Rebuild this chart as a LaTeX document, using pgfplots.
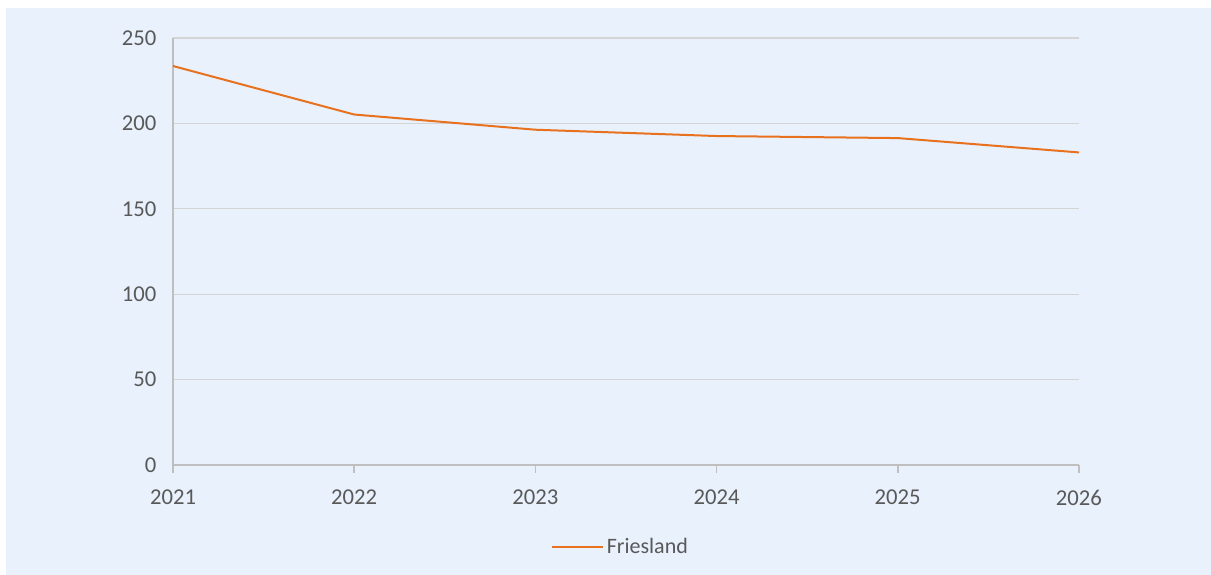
\documentclass[border=0pt]{standalone}
\usepackage{fontspec}
\setmainfont{Carlito}
\usepackage{pgfplots}
\pgfplotsset{compat=1.18}
\definecolor{bgblue}{HTML}{E9F1FD}
\definecolor{gridgray}{HTML}{D4D4D4}
\definecolor{axisgray}{HTML}{BFBFBF}
\definecolor{txtgray}{HTML}{595959}
\definecolor{lineorange}{HTML}{E8711E}
\begin{document}
\begin{tikzpicture}[x=1pt,y=1pt]
\path[use as bounding box] (0,0) rectangle (908.25,431.25);
\fill[bgblue] (4.5,0) rectangle (908.25,425.25);
\begin{axis}[
  scale only axis,
  width=679.5pt, height=320.25pt,
  at={(129.75pt,82.5pt)}, anchor=south west,
  xmin=2021, xmax=2026, ymin=0, ymax=250,
  xtick={2021,...,2026},
  ytick={0,50,...,250},
  axis x line*=bottom, axis y line*=left,
  axis line style={axisgray, line width=1.2pt},
  ymajorgrids,
  grid style={gridgray, line width=1pt},
  xtick align=outside,
  x tick style={axisgray, line width=1.2pt},
  major tick length=6pt,
  y tick style={draw=none},
  /pgf/number format/1000 sep={},
  /pgf/number format/assume math mode=true,
  tick label style={font=\fontsize{17}{20}\selectfont, text=txtgray},
  yticklabel style={xshift=-9pt},
  xticklabel style={yshift=-9pt},
  legend style={at={(0.4945,-0.192)}, anchor=center, draw=none, fill=none,
    font=\fontsize{16.5}{20}\selectfont, text=txtgray},
  legend image code/.code={\draw[#1] (0pt,0pt) -- (38pt,0pt);},
  legend image post style={line width=1.5pt},
  legend cell align=left,
  clip=false,
]
\addplot[lineorange, line width=1.5pt] coordinates {
  (2021,233.6) (2022,205.2) (2023,196.3) (2024,192.6) (2025,191.4) (2026,183.0)
};
\addlegendentry{Friesland}
\end{axis}
\end{tikzpicture}
\end{document}
